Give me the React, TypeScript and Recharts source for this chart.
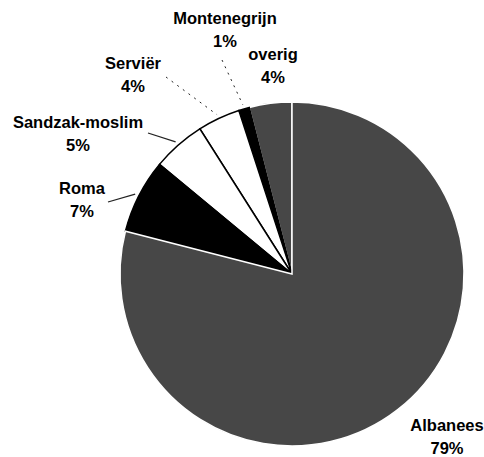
import React from "react";
import { PieChart, Pie, Cell } from "recharts";

// slice order runs counter-clockwise from 12 o'clock
const groups = ["overig", "Montenegrijn", "Serviër", "Sandzak-moslim", "Roma", "Albanees"];
const shares = [4, 1, 4, 5, 7, 79];

const data = groups.map((name, i) => ({ name, value: shares[i] }));

const fills: Record<string, string> = {
  overig: "#474747",
  Montenegrijn: "#000000",
  "Serviër": "#ffffff",
  "Sandzak-moslim": "#ffffff",
  Roma: "#000000",
  Albanees: "#474747",
};
const strokes: Record<string, string> = {
  overig: "#ffffff",
  Montenegrijn: "#000000",
  "Serviër": "#000000",
  "Sandzak-moslim": "#000000",
  Roma: "#000000",
  Albanees: "#ffffff",
};

// label baseline offsets from the pie centre, plus where the leader line starts
const labelPos: Record<string, { dx: number; dy: number; line?: [number, number]; dotted?: boolean }> = {
  overig: { dx: -19, dy: -214 },
  Montenegrijn: { dx: -67, dy: -250, line: [-70, -214], dotted: true },
  "Serviër": { dx: -159, dy: -205, line: [-126, -197], dotted: true },
  "Sandzak-moslim": { dx: -214, dy: -146, line: [-144, -141] },
  Roma: { dx: -210, dy: -80, line: [-184, -72] },
  Albanees: { dx: 155, dy: 157 },
};

const RAD = Math.PI / 180;

const renderLabel = (props: any) => {
  const { cx, cy, midAngle, outerRadius, name, value } = props;
  const p = labelPos[name];
  if (!p) return null;
  const x = cx + p.dx;
  const y = cy + p.dy;
  let line = null;
  if (p.line) {
    const ex = cx + (outerRadius + 4) * Math.cos(-midAngle * RAD);
    const ey = cy + (outerRadius + 4) * Math.sin(-midAngle * RAD);
    line = (
      <line
        x1={cx + p.line[0]}
        y1={cy + p.line[1]}
        x2={ex}
        y2={ey}
        stroke='#222'
        strokeWidth={p.dotted ? 1 : 1.3}
        strokeDasharray={p.dotted ? "2 5" : undefined}
      />
    );
  }
  return (
    <g>
      {line}
      <text
        x={x}
        y={y}
        textAnchor='middle'
        fill='#000'
        style={{ fontFamily: "'Liberation Sans', Arial, sans-serif", fontSize: 16.5, fontWeight: 700 }}>
        <tspan x={x} dy={0}>
          {name}
        </tspan>
        <tspan x={x} dy={23}>
          {value}%
        </tspan>
      </text>
    </g>
  );
};

const App = () => {
  return (
    <div style={{ position: "absolute", left: 0, top: 0, width: 484, height: 457, background: "#fff" }}>
      <PieChart width={484} height={457} margin={{ top: 0, right: 0, bottom: 0, left: 0 }}>
        <Pie
          data={data}
          dataKey='value'
          nameKey='name'
          cx={292}
          cy={274}
          outerRadius={172}
          startAngle={90}
          endAngle={450}
          label={renderLabel}
          labelLine={false}
          isAnimationActive={false}>
          {data.map((entry) => (
            <Cell key={entry.name} fill={fills[entry.name]} stroke={strokes[entry.name]} strokeWidth={1.5} />
          ))}
        </Pie>
      </PieChart>
    </div>
  );
};

export default App;
